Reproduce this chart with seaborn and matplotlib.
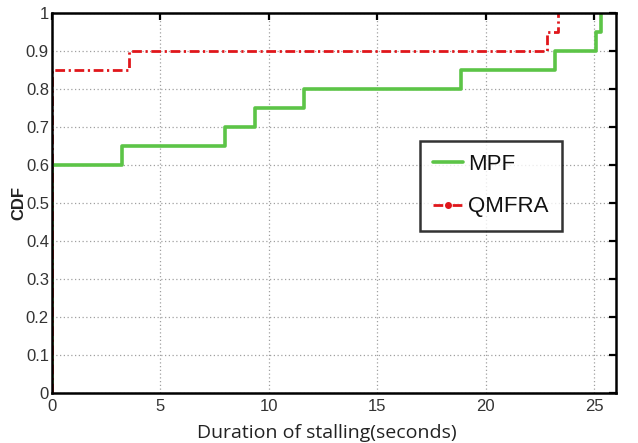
import numpy as np
import pandas as pd
import matplotlib
matplotlib.use("Agg")
import matplotlib.pyplot as plt
from matplotlib.lines import Line2D
import seaborn as sns

# stalling durations (seconds) per session, 20 sessions each
mpf_stall = [0] * 12 + [3.25, 8.0, 9.37, 11.63, 18.86, 23.19, 25.08, 25.34]
qmfra_stall = [0] * 17 + [3.56, 22.85, 23.35]
series_names = ["MPF", "QMFRA"]
x_ticks = [0, 5, 10, 15, 20, 25]
y_ticks = [0, 0.1, 0.2, 0.3, 0.4, 0.5, 0.6, 0.7, 0.8, 0.9, 1]
y_labels = ["0", "0.1", "0.2", "0.3", "0.4", "0.5", "0.6", "0.7", "0.8", "0.9", "1"]

df = pd.DataFrame({
    "stall": mpf_stall + qmfra_stall,
    "method": [series_names[0]] * len(mpf_stall) + [series_names[1]] * len(qmfra_stall),
})

green = "#5cc447"
red = "#e0161b"
red_dash = (0, (3.5, 1.3, 0.8, 1.3))
narrow = ["Liberation Sans Narrow", "Liberation Sans", "DejaVu Sans"]

sns.set_style("white")
plt.rcParams["font.family"] = narrow

fig = plt.figure(figsize=(6.38, 4.43), dpi=100)
ax = fig.add_axes([0.081, 0.1129, 0.884, 0.857])

sns.ecdfplot(data=df[df["method"] == "MPF"], x="stall", ax=ax, color=green, linewidth=2.6)
sns.ecdfplot(data=df[df["method"] == "QMFRA"], x="stall", ax=ax, color=red,
             linewidth=2.0, linestyle=red_dash)

ax.set_xlim(0, 26)
ax.set_ylim(0, 1)
ax.set_xticks(x_ticks)
ax.set_yticks(y_ticks)
ax.set_yticklabels(y_labels)
ax.grid(True, linestyle=(0, (1, 2)), color="#a0a0a0", linewidth=0.9)
ax.tick_params(direction="in", length=5, width=1.6, colors="black", labelcolor="#333333",
               labelsize=12, top=True, right=True, pad=2)
ax.tick_params(axis="x", pad=4)
for s in ax.spines.values():
    s.set_linewidth(1.8)
    s.set_color("black")
    s.set_zorder(5)

ax.set_xlabel("Duration of stalling(seconds)", fontsize=14, color="#222222",
              family=["Open Sans", "DejaVu Sans"])
ax.xaxis.set_label_coords(0.488, -0.083)
ax.set_ylabel("CDF", fontsize=12, fontweight="bold", family=["Liberation Sans", "DejaVu Sans"],
              color="#222222")
ax.yaxis.set_label_coords(-0.044, 0.5)

handles = [
    Line2D([], [], color=green, linewidth=2.6),
    Line2D([], [], color=red, linewidth=2.0, linestyle=red_dash, marker=".", markersize=8),
]
leg = ax.legend(handles, series_names, loc="upper left", bbox_to_anchor=(0.653, 0.664),
                fontsize=16, frameon=True, fancybox=False, edgecolor="black",
                handlelength=1.35, borderpad=0.6, labelspacing=0.95, handletextpad=0.2,
                borderaxespad=0)
leg.get_frame().set_linewidth(1.8)
for t in leg.get_texts():
    t.set_color("#111111")

fig.savefig("out.png", dpi=100)
